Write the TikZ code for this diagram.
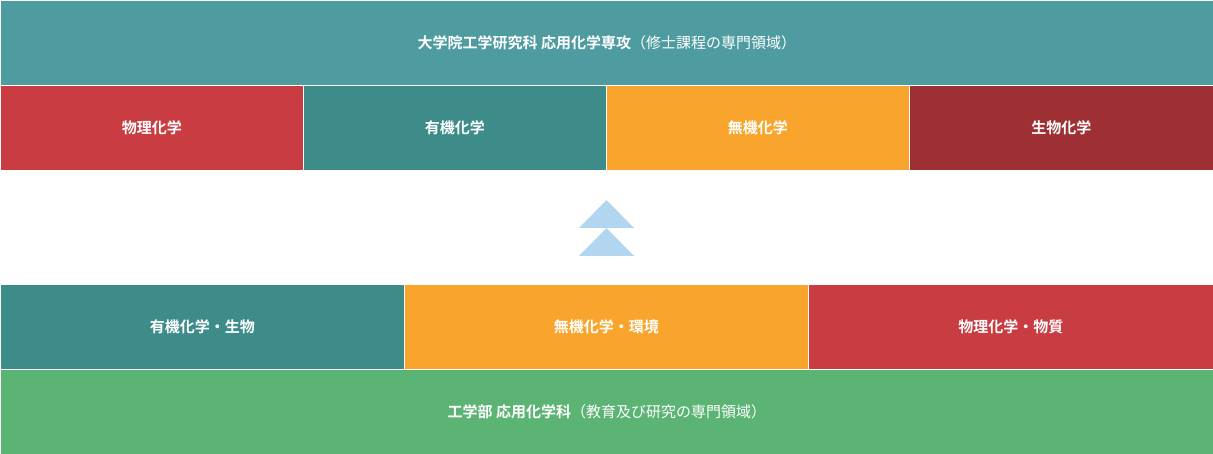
\documentclass[tikz,border=0pt]{standalone}
\usepackage{fontspec}
\setmainfont{Noto Sans CJK JP}
\newfontfamily\jpb{Noto Sans CJK JP Bold}
\definecolor{cTop}{HTML}{4E9BA0}
\definecolor{cRed}{HTML}{C83C42}
\definecolor{cTeal}{HTML}{3D8C8A}
\definecolor{cOrg}{HTML}{F9A52D}
\definecolor{cDred}{HTML}{9E2F33}
\definecolor{cGrn}{HTML}{5BB473}
\definecolor{cArr}{HTML}{B3D6F0}
\begin{document}
\begin{tikzpicture}[x=1pt,y=-1pt,
 box/.style={draw=white,line width=0.8pt,inner sep=0pt,text=white,font=\fontsize{15}{18}\selectfont},
 tri/.style={fill=cArr,draw=none}]
\useasboundingbox (0,0) rectangle (1213,454);
\node[box,fill=cTop,minimum width=1213,minimum height=85,anchor=north west] (top) at (0,0) {{\jpb 大学院工学研究科\ 応用化学専攻}（修士課程の専門領域）};
\node[box,fill=cRed,minimum width=303,minimum height=85,anchor=north west] (a1) at (0,85) {\jpb 物理化学};
\node[box,fill=cTeal,minimum width=303,minimum height=85,anchor=north west] (a2) at (303,85) {\jpb 有機化学};
\node[box,fill=cOrg,minimum width=303,minimum height=85,anchor=north west] (a3) at (606,85) {\jpb 無機化学};
\node[box,fill=cDred,minimum width=304,minimum height=85,anchor=north west] (a4) at (909,85) {\jpb 生物化学};
\fill[tri] (579,228) -- (606.5,200) -- (634,228) -- cycle;
\fill[tri] (579,256) -- (606.5,228) -- (634,256) -- cycle;
\node[box,fill=cTeal,minimum width=404,minimum height=85,anchor=north west] (b1) at (0,284) {\jpb 有機化学・生物};
\node[box,fill=cOrg,minimum width=404,minimum height=85,anchor=north west] (b2) at (404,284) {\jpb 無機化学・環境};
\node[box,fill=cRed,minimum width=405,minimum height=85,anchor=north west] (b3) at (808,284) {\jpb 物理化学・物質};
\node[box,fill=cGrn,minimum width=1213,minimum height=85,anchor=north west] (bot) at (0,369) {{\jpb 工学部\ 応用化学科}（教育及び研究の専門領域）};
\end{tikzpicture}
\end{document}
